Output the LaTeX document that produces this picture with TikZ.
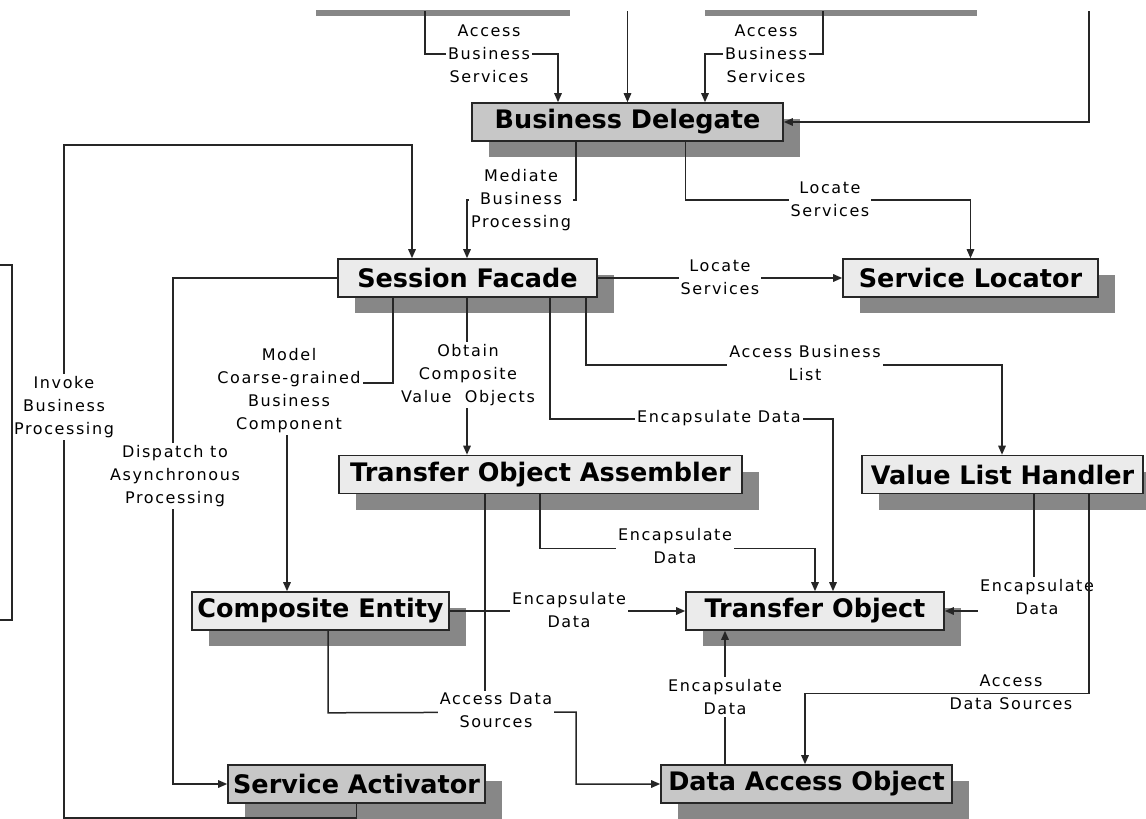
\documentclass[tikz,border=0pt]{standalone}
\usepackage{fontspec}
\setsansfont{DejaVu Sans}
\newfontfamily\lblfont[LetterSpace=10]{DejaVu Sans}
\usetikzlibrary{arrows.meta, shadows}

\tikzset{
  box/.style={draw=black!85, line width=1.6pt, fill=black!8, minimum height=38pt, inner sep=0pt,
    font=\sffamily\bfseries\fontsize{25.5pt}{28pt}\selectfont,
    drop shadow={shadow xshift=17pt, shadow yshift=-16pt, fill=black!47, opacity=1}},
  darkbox/.style={box, fill=black!22},
  link/.style={line width=1.5pt, draw=black!85},
  conn/.style={link, -{Triangle[length=9pt, width=7.5pt]}},
  lbl/.style={fill=white, inner sep=2pt, align=center, font=\lblfont\fontsize{16pt}{23pt}\selectfont},
}

\begin{document}
\begin{tikzpicture}[x=1pt, y=-1pt]
  \useasboundingbox (0,0) rectangle (1146,819);

  % bottoms of the boxes cut off above
  \fill[black!47] (316,10) rectangle (570,16);
  \fill[black!47] (705,10) rectangle (977,16);

  \foreach \nm/\sty/\x/\y/\w/\txt in {
      bd/darkbox/627.5/122/311/Business Delegate,
      sf/box/467.5/278/259/Session Facade,
      sl/box/970.5/278/255/Service Locator,
      toa/box/540.5/474.5/403/Transfer Object Assembler,
      vlh/box/1002.5/474.5/281/Value List Handler,
      ce/box/320.5/611/257/Composite Entity,
      to/box/815/611/258/Transfer Object,
      sa/darkbox/356.5/784/257/Service Activator,
      dao/darkbox/806.5/784/291/Data Access Object} {
    \node[\sty, minimum width=\w pt] (\nm) at (\x,\y) {\txt};
  }

  % incoming requests
  \coordinate (in1) at (425,11);
  \coordinate (in2) at (627.5,11);
  \coordinate (in3) at (823,11);
  \coordinate (in4) at (1089,11);
  \draw[conn] (in1) -- ++(0,43) -| ([xshift=-69.5]bd.north);
  \draw[conn] (in2) -- (bd.north);
  \draw[conn] (in3) -- ++(0,43) -| ([xshift=77.5]bd.north);
  \draw[conn] (in4) |- (bd.east);

  % business delegate and session facade
  \draw[conn] ([xshift=-51.5]bd.south) -- ++(0,58) -| ([xshift=-0.5]sf.north);
  \draw[conn] ([xshift=58]bd.south) -- ++(0,58) -| (sl.north);
  \draw[conn] (sa.south) -- ++(0,14) -| (64,145) -| ([xshift=-55.5]sf.north);
  \draw[conn] (sf.west) -- (173,278) |- (sa.west);
  \draw[conn] ([xshift=-74.5]sf.south) -- ++(0,85) -| ([xshift=-33.5]ce.north);
  \draw[conn] ([xshift=-0.5]sf.south) -- ([xshift=-73.5]toa.north);
  \draw[conn] ([xshift=82.5]sf.south) -- ++(0,121) -| ([xshift=18]to.north);
  \draw[conn] ([xshift=118.5]sf.south) -- ++(0,67) -| ([xshift=-0.5]vlh.north);
  \draw[conn] (sf.east) -- (sl.west);

  % data side
  \draw[conn] ([xshift=-0.5]toa.south) -- ++(0,54) -| (to.north);
  \draw[link] ([xshift=-55.5]toa.south) -- ++(0,218);
  \draw[conn] ([xshift=7.5]ce.south) -- ++(0,82) -- (576,712) |- (dao.west);
  \draw[conn] (ce.east) -- (to.west);
  \draw[conn] ([xshift=31.5]vlh.south) |- (to.east);
  \draw[conn] ([xshift=-81.5]dao.north) -- ([xshift=-90]to.south);

  % labels
  \node[lbl] (abs1) at (489,54) {Access\\Business\\Services};
  \node[lbl] (abs2) at (766,54) {Access\\Business\\Services};
  \node[lbl] (mbp) at (521,200) {Mediate\\Business\\Processing};
  \node[lbl] (ls1) at (830,199) {Locate\\Services};
  \node[lbl] (ibp) at (64,407) {Invoke\\Business\\Processing};
  \node[lbl] (dap) at (175,476) {Dispatch to\\Asynchronous\\Processing};
  \node[lbl] (mcg) at (289,391) {Model\\Coarse-grained\\Business\\Component};
  \node[lbl] (ocv) at (468,375) {Obtain\\Composite\\Value\ \ Objects};
  \node[lbl] (ed1) at (719,418) {Encapsulate Data};
  \node[lbl] (abl) at (805,363) {Access Business\\List};
  \node[lbl] (ls2) at (720,277) {Locate\\Services};
  \node[lbl] (ed2) at (675,546) {Encapsulate\\Data};
  \node[lbl] (ads1) at (496,710) {Access Data\\Sources};
  \node[lbl] (ed3) at (569,610) {Encapsulate\\Data};
  \node[lbl] (ed4) at (1037,597) {Encapsulate\\Data};
  \node[lbl] (ads2) at (1011,692) {Access\\Data Sources};
  \node[lbl] (ed5) at (725,697) {Encapsulate\\Data};

  % these two stay on top of the labels
  \draw[conn] ([xshift=86.5]vlh.south) -- ++(0,199) -| ([xshift=-1.5]dao.north);
  \draw[link] (0,265) -- (12,265) -- (12,620) -- (0,620);
\end{tikzpicture}
\end{document}
